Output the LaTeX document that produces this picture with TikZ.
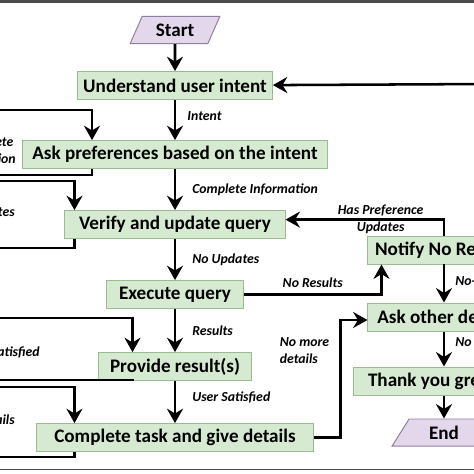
\documentclass[tikz,border=0pt]{standalone}
\usepackage{fontspec}
\setmainfont{Carlito}
\usetikzlibrary{arrows.meta,positioning,calc,shapes.geometric}
\definecolor{boxgreen}{HTML}{D6E9D1}
\definecolor{boxedge}{HTML}{9DBB92}
\definecolor{termfill}{HTML}{E3D7EC}
\definecolor{termedge}{HTML}{8E7F9E}
\definecolor{framegrey}{HTML}{4A4A4A}

\begin{document}
\begin{tikzpicture}[x=0.025cm,y=-0.025cm,
  font=\fontsize{13.6}{16}\selectfont\bfseries,
  box/.style={draw=boxedge,fill=boxgreen,line width=0.7pt,minimum height=0.7cm,
              inner xsep=4pt,inner ysep=2pt},
  term/.style={trapezium,trapezium left angle=64,trapezium right angle=116,
               trapezium stretches=true,draw=termedge,fill=termfill,line width=0.7pt,
               minimum height=0.68cm,inner sep=1pt},
  ar/.style={-{Stealth[length=3.6mm,width=4mm,inset=1.2mm]},line width=1.8pt},
  lbl/.style={font=\fontsize{9.8}{12}\selectfont\bfseries\itshape,inner sep=0pt},
]
\useasboundingbox (0,0) rectangle (474,474);
\clip (0,0) rectangle (474,474);

% main column
\node[term,minimum width=2.25cm] (start) at (175,30) {Start};
\node[box,minimum width=4.825cm,below=0.675cm of start] (intent) {Understand user intent};
\node[box,minimum width=7.625cm,below=1.0cm of intent] (prefs) {Ask preferences based on the intent};
\node[box,minimum width=5.5cm,below=1.025cm of prefs] (verify) {Verify and update query};
\node[box,minimum width=3.425cm,below=1.025cm of verify] (exec) {Execute query};
\node[box,minimum width=3.8cm,below=1.075cm of exec] (result) {Provide result(s)};
\node[box,minimum width=6.9cm,below=1.05cm of result] (done) {Complete task and give details};

% right column
\node[box,minimum width=3.8cm] (noresult) at (444,250) {Notify No Results};
\node[box,minimum width=3.8cm,below=0.95cm of noresult] (details) {Ask other details};
\node[box,minimum width=4.5cm,below=0.875cm of details] (thanks) {Thank you greeting};
\node[term,minimum width=2.6cm,below=0.575cm of thanks] (end) {End};

% loose ends outside the frame
\coordinate (rin) at (490,84);
\coordinate (l1) at (-20,110);
\coordinate (l2) at (-20,175);
\coordinate (l3) at (-20,181);
\coordinate (l4) at (-20,248);
\coordinate (l5) at (-20,318);
\coordinate (l6) at (-20,380);
\coordinate (l7) at (-20,387);
\coordinate (l8) at (-20,457);

\draw[ar] (start) -- (intent);
\draw[ar] (rin) -- (intent);
\draw[ar] (intent) -- node[lbl,right=2.8mm,pos=0.4] {Intent} (prefs);
\draw[ar] (prefs) -- node[lbl,right=4mm] {Complete Information} (verify);
\draw[ar] (verify) -- node[lbl,right=4mm] {No Updates} (exec);
\draw[ar] (exec) -- node[lbl,right=4mm] {Results} (result);
\draw[ar] (result) -- node[lbl,right=4mm,pos=0.4] {User Satisfied} (done);

\draw[ar] (exec.east) -| node[lbl,above=1.5mm,pos=0.25] {No Results}
  ([xshift=0.35cm]noresult.south west);
\draw[ar] (noresult.north) |- node[lbl,pos=0.7,align=center] {Has Preference\\Updates}
  ([yshift=1.25mm]verify.east);
\draw[ar] (noresult) -- node[lbl,right=2.5mm,pos=0.45] {No-Updates} (details);
\draw[ar] (details) -- node[lbl,right=2.5mm,pos=0.3] {No} (thanks);
\draw[ar] (thanks) -- (end);
\draw[ar] (done.east) -- ++(27,0) |- node[lbl,pos=0.37,left=2.5mm,align=left] {No more\\details}
  ([yshift=-0.75mm]details.west);

% loops running off to the left
\draw[ar] (l1) -| ([xshift=1.75cm]prefs.north west);
\draw[ar] ([xshift=1.75cm]prefs.south west) |- (l2);
\draw[ar] (l3) -| ([xshift=0.25cm]verify.north west);
\draw[ar] ([xshift=0.25cm]verify.south west) |- (l4);
\draw[ar] (l5) -| ([xshift=0.85cm]result.north west);
\draw[ar] ([xshift=0.85cm]result.south west) |- (l6);
\draw[ar] (l7) -| ([xshift=0.95cm]done.north west);
\draw[ar] ([xshift=0.95cm]done.south west) |- (l8);

\node[lbl,align=center,anchor=east] (incomplete) at (16,151) {Incomplete\\Information};
\node[lbl,anchor=east] (hasupd) at (15,213) {Updates};
\node[lbl,anchor=east] (notsat) at (40,352) {Not Satisfied};
\node[lbl,anchor=east] (moredet) at (15,420) {More details};

% frame edges
\fill[framegrey] (0,0) rectangle (474,3);
\draw[framegrey,line width=1.2pt] (0,469.5) -- (474,469.5);
\end{tikzpicture}
\end{document}
